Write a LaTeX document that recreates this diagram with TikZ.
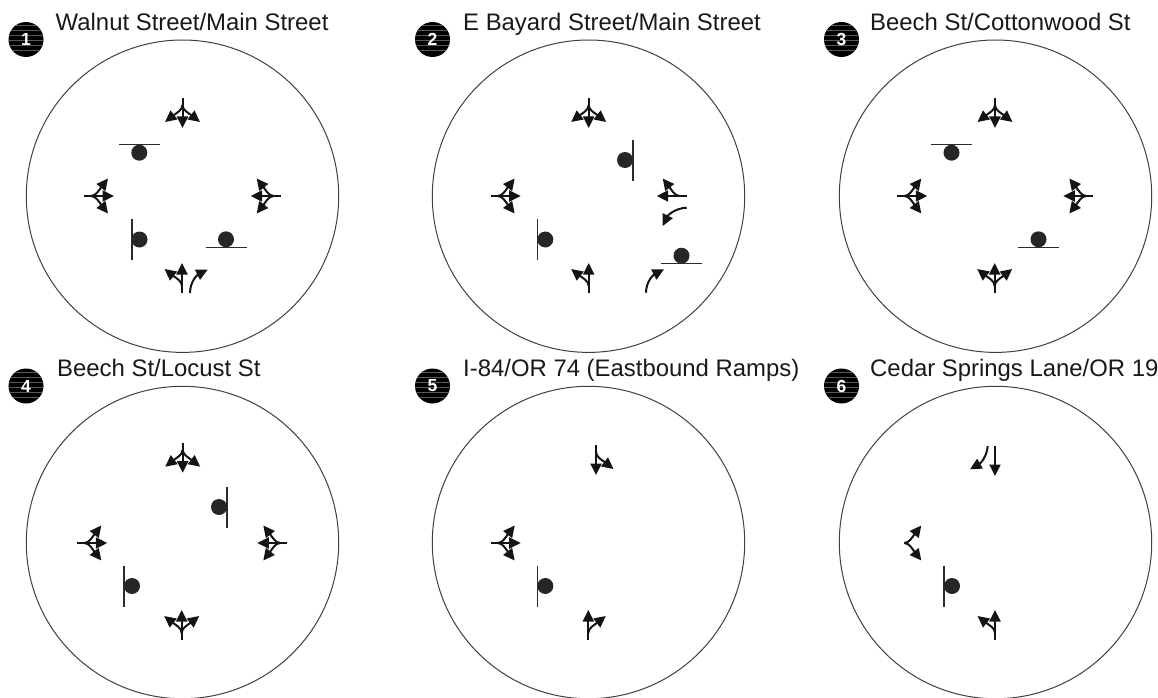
\documentclass[tikz,border=0pt]{standalone}
\usepackage{fontspec}
\setmainfont{Liberation Sans}
\usetikzlibrary{arrows.meta}
\definecolor{ink}{gray}{0.08}
\tikzset{
 x=1pt,y=-1pt,
 lane/.style={draw=ink,line width=2pt,-{Triangle[length=11.5pt,width=11pt]}},
 ring/.style={draw=black!75,line width=1pt},
 stopbar/.style={draw=ink!90,line width=1.6pt},
 signal/.style={circle,fill=black!85,inner sep=0pt,minimum size=16pt},
 badge/.style={circle,fill=black,inner sep=0pt,minimum size=35pt},
 title/.style={anchor=base west,inner sep=0pt,text=black!90,font=\fontsize{23.9}{26}\selectfont},
 pics/thru/.style={code={\draw[lane] (0,0)--(0,-30);}},
 pics/lb/.style={code={\draw[lane] (0,-7) .. controls (0,-12) and (-6,-15) .. (-17.5,-24);}},
 pics/rb/.style={code={\draw[lane] (0,-7) .. controls (0,-12) and (6,-15) .. (17.5,-24);}},
}
\newcommand{\lanes}[4]{% x,y,rot,list of movements
 \foreach \m in {#4}{\pic[rotate=#3] at (#1,#2) {\m};}}
\newcommand{\vstop}[4]{% name, x of bar, y of centre, x of dot
 \draw[stopbar] (#2,#3-20.5)--(#2,#3+20.5);
 \node[signal] (#1) at (#4,#3) {};}
\newcommand{\hstop}[4]{% name, y of bar, x centre, y dot
 \draw[stopbar] (#3-20.5,#2)--(#3+20.5,#2);
 \node[signal] (#1) at (#3,#4) {};}
\newcommand{\bdg}[4]{% x, y, number, name
 \node[badge] (#4) at (#1,#2) {};
 \begin{scope}
 \clip (#1,#2) circle (17.5pt);
 \foreach \d in {-14,-9,-4,1,6,11}{\draw[white!35!black,line width=0.5pt] (#1-18,#2+\d)--(#1+18,#2+\d);}
 \end{scope}
 \node[text=white,inner sep=0pt,font=\bfseries\fontsize{17.5}{18}\selectfont] at (#4) {#3};}
\begin{document}
\begin{tikzpicture}
\useasboundingbox (0,0) rectangle (1158,698);
\fill[white] (0,0) rectangle (1158,698);
% rings
\foreach \n/\x/\y in {a/182.5/196.2,b/588.5/196.2,c/995.5/196.2,d/182.5/542.5,e/588.5/542.5,f/995.5/542.5}
 \draw[ring] (\x,\y) circle (156.2pt);
% titles
\bdg{26}{39.5}{1}{b1}\node[title] (t1) at (55.5,31) {Walnut Street/Main Street};
\bdg{432.5}{39.5}{2}{b2}\node[title] (t2) at (463,31) {E Bayard Street/Main Street};
\bdg{841.5}{39.5}{3}{b3}\node[title] (t3) at (870,31) {Beech St/Cottonwood St};
\bdg{26}{386}{4}{b4}\node[title] (t4) at (57,376.7) {Beech St/Locust St};
\bdg{432.5}{386}{5}{b5}\node[title] (t5) at (463,376.7) {I-84/OR 74 (Eastbound Ramps)};
\bdg{841.5}{386}{6}{b6}\node[title] (t6) at (870,376.7) {Cedar Springs Lane/OR 19};
% 1
\lanes{182.5}{98}{180}{thru,lb,rb}
\lanes{84}{196}{-90}{thru,lb,rb}
\lanes{280.7}{196}{90}{thru,lb,rb}
\lanes{182}{293}{0}{thru,lb}
\draw[lane] (190,293) .. controls (190,282) and (197,275) .. (207.7,269.6);
\hstop{s1a}{144.3}{139.3}{152.7}
\vstop{s1b}{131.7}{239.5}{139.5}
\hstop{s1c}{247.3}{226}{239.3}
% 2
\lanes{588.7}{98}{180}{thru,lb,rb}
\lanes{490.7}{196}{-90}{thru,lb,rb}
\lanes{686.7}{196}{90}{thru,rb}
\lanes{588.7}{293}{0}{thru,lb}
\draw[lane] (686.7,207.7) .. controls (676,208) and (668,215) .. (662.7,226);
\draw[lane] (646,292.7) .. controls (646,282) and (653,275) .. (664,269.3);
\vstop{s2a}{632.7}{160}{625}
\vstop{s2b}{537.3}{239.5}{545.3}
\hstop{s2c}{263.3}{681.5}{255.7}
% 3
\lanes{995}{98}{180}{thru,lb,rb}
\lanes{897.3}{196}{-90}{thru,lb,rb}
\lanes{1093.3}{196}{90}{thru,lb,rb}
\lanes{994.7}{293}{0}{thru,lb,rb}
\hstop{s3a}{144.3}{951.5}{152.7}
\hstop{s3c}{247.3}{1038.5}{239.3}
% 4
\lanes{182.7}{442.7}{180}{thru,lb,rb}
\lanes{77.3}{543}{-90}{thru,lb,rb}
\lanes{287.3}{543}{90}{thru,lb,rb}
\lanes{181.7}{640}{0}{thru,lb,rb}
\vstop{s4a}{227}{507}{219}
\vstop{s4b}{123.7}{586}{132}
% 5
\lanes{596}{445}{180}{thru,lb}
\lanes{490.7}{543}{-90}{thru,lb,rb}
\lanes{588.3}{640}{0}{thru,rb}
\vstop{s5b}{537.3}{586}{545.3}
% 6
\draw[lane] (995,446)--(995,476);
\draw[lane] (987.7,446) .. controls (987,456) and (981,463) .. (970,469.3);
\lanes{897.3}{543}{-90}{lb,rb}
\lanes{995}{640}{0}{thru,lb}
\vstop{s6b}{943.7}{586}{952}
\end{tikzpicture}
\end{document}
